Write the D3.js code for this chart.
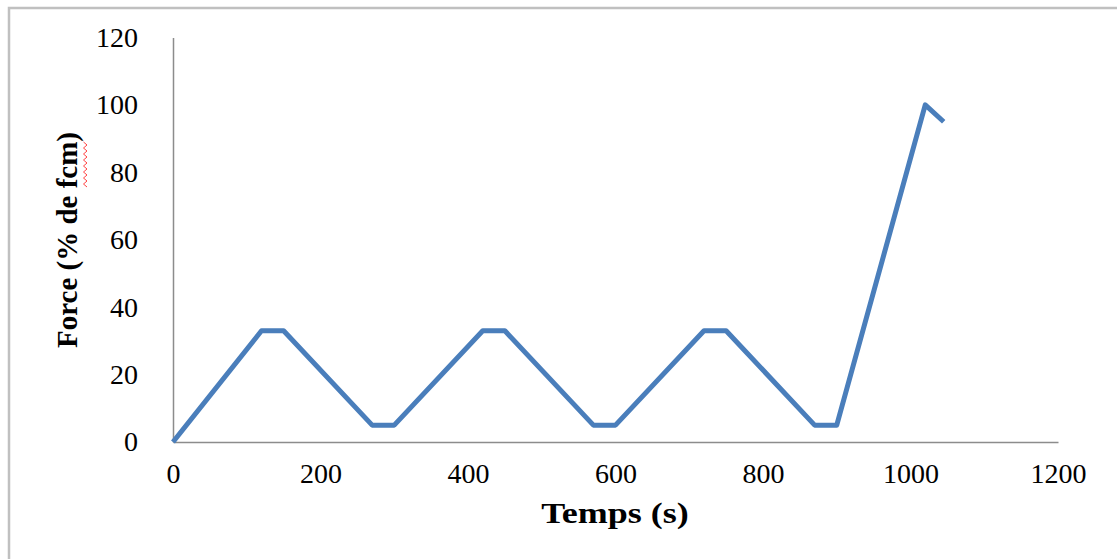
<!DOCTYPE html>
<html>
<head>
<meta charset="utf-8">
<script src="https://cdn.jsdelivr.net/npm/d3@7"></script>
<style>
  html, body { margin: 0; padding: 0; background: #fff; }
  svg { display: block; }
</style>
</head>
<body>
<svg id="chart" width="1117" height="559"></svg>
<script>
const timeValues = [0, 120, 150, 270, 300, 420, 450, 570, 600, 720, 750, 870, 900, 1020, 1045];
const forceValues = [0, 33, 33, 5, 5, 33, 33, 5, 5, 33, 33, 5, 5, 100, 95];
const xTicks = [0, 200, 400, 600, 800, 1000, 1200];
const yTicks = [0, 20, 40, 60, 80, 100, 120];
const xTitle = "Temps (s)";
const yTitle = "Force (% de fcm)";

const svg = d3.select("#chart");
const margin = { left: 173, right: 1058, top: 37.5, bottom: 442 };

// outer frame (only top and left edges are within view)
svg.append("rect")
  .attr("x", 9).attr("y", 8)
  .attr("width", 1200).attr("height", 700)
  .attr("fill", "none").attr("stroke", "#c0c0c0").attr("stroke-width", 2.5);

const x = d3.scaleLinear().domain([0, 1200]).range([margin.left, margin.right]);
const y = d3.scaleLinear().domain([0, 120]).range([margin.bottom, margin.top]);

const font = "'Liberation Serif', 'Times New Roman', serif";

// axes
const xAxis = d3.axisBottom(x).tickValues(xTicks).tickFormat(d3.format("d")).tickSize(0).tickPadding(21);
const gx = svg.append("g").attr("transform", `translate(0,${margin.bottom})`).call(xAxis);
gx.select(".domain").attr("stroke", "#8c8c8c").attr("stroke-width", 1.5);
gx.selectAll("text").attr("font-family", font).attr("font-size", 28).attr("fill", "#000");

const yAxis = d3.axisLeft(y).tickValues(yTicks).tickFormat(d3.format("d")).tickSize(0).tickPadding(35);
const gy = svg.append("g").attr("transform", `translate(${margin.left},0)`).call(yAxis);
gy.select(".domain").attr("stroke", "#8c8c8c").attr("stroke-width", 1.5);
gy.selectAll("text").attr("font-family", font).attr("font-size", 28).attr("fill", "#000");

// line
const data = timeValues.map((t, i) => ({ t, f: forceValues[i] }));
svg.append("path")
  .datum(data)
  .attr("fill", "none")
  .attr("stroke", "#4a7ebb")
  .attr("stroke-width", 5)
  .attr("stroke-linejoin", "round")
  .attr("d", d3.line().x(d => x(d.t)).y(d => y(d.f)));

// titles
svg.append("text")
  .attr("transform", "translate(615,523) scale(1.2,1)")
  .attr("text-anchor", "middle")
  .attr("font-family", font).attr("font-size", 30).attr("font-weight", "bold")
  .text(xTitle);

svg.append("text")
  .attr("transform", "translate(77,240) rotate(-90)")
  .attr("text-anchor", "middle")
  .attr("font-family", font).attr("font-size", 29).attr("font-weight", "bold")
  .text(yTitle);

// spell-check wavy underline beside "fcm"
const zig = [];
for (let i = 0; i <= 15; i++) {
  zig.push([ (i % 2 ? 87 : 83.5), 142 + i * 3 ]);
}
svg.append("path")
  .attr("d", d3.line()(zig))
  .attr("fill", "none").attr("stroke", "#ff3030").attr("stroke-width", 0.9);
</script>
</body>
</html>
